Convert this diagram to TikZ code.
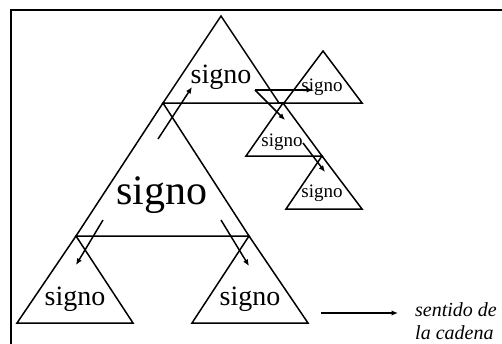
\documentclass[tikz,border=0pt]{standalone}
\usepackage{fontspec}
\setmainfont{Liberation Serif}
\usetikzlibrary{arrows.meta}
\begin{document}
\begin{tikzpicture}[x=1pt,y=-1pt,
  tri/.style={draw=black,line width=1.5pt,line join=miter},
  lbl/.style={inner sep=0pt,anchor=base},
  chain/.style={line width=1.5pt,-{Latex[length=6.5pt,width=5.5pt]}},
  big/.style={font=\fontsize{42}{42}\selectfont},
  med/.style={font=\fontsize{28}{28}\selectfont},
  sml/.style={font=\fontsize{19}{19}\selectfont},
  legend/.style={inner sep=0pt,anchor=base west,font=\fontsize{20}{20}\selectfont\itshape},
]
\useasboundingbox (0,0) rectangle (502,343);
\clip (0,0) rectangle (502,343);
% frame
\draw[line width=2pt] (11,360) -- (11,10) -- (530,10);
% triangle corners
\coordinate (t1a) at (221,16);  \coordinate (t1l) at (163,103); \coordinate (t1r) at (279,103);
\coordinate (t2a) at (323,51);  \coordinate (t2l) at (284,103); \coordinate (t2r) at (362,103);
\coordinate (t3a) at (283,103); \coordinate (t3l) at (246,156); \coordinate (t3r) at (322,156);
\coordinate (t4a) at (322,156); \coordinate (t4l) at (286,209); \coordinate (t4r) at (362,209);
\coordinate (t5a) at (163,103); \coordinate (t5l) at (76,236);  \coordinate (t5r) at (249,236);
\coordinate (t6a) at (76,236);  \coordinate (t6l) at (17,323);  \coordinate (t6r) at (133,323);
\coordinate (t7a) at (249,236); \coordinate (t7l) at (192,323); \coordinate (t7r) at (308,323);
\foreach \t in {t1,t2,t3,t4,t5,t6,t7}
  \draw[tri] (\t a) -- (\t l) -- (\t r) -- cycle;
\draw[tri] (t1r) -- (t2l);
% labels
\node[lbl,med] (s1) at (221,83) {signo};
\node[lbl,sml] (s2) at (322,91) {signo};
\node[lbl,sml] (s3) at (282,146) {signo};
\node[lbl,sml] (s4) at (322,197) {signo};
\node[lbl,big] (s5) at (162,204) {signo};
\node[lbl,med] (s6) at (75,305) {signo};
\node[lbl,med] (s7) at (250,305) {signo};
% chain arrows
\coordinate (a1s) at (158,139); \coordinate (a1e) at (192,87);
\coordinate (a2s) at (255,90);  \coordinate (a2e) at (313,90);
\coordinate (a3e) at (285,120);
\coordinate (a4s) at (303,143); \coordinate (a4e) at (325,172);
\coordinate (a5s) at (103,220); \coordinate (a5e) at (76,265);
\coordinate (a6s) at (221,220); \coordinate (a6e) at (249,266);
\draw[chain] (a1s) -- (a1e);
\draw[chain] (a2s) -- (a2e);
\draw[chain] (a2s) -- (a3e);
\draw[chain] (a4s) -- (a4e);
\draw[chain] (a5s) -- (a5e);
\draw[chain] (a6s) -- (a6e);
% legend
\coordinate (ls) at (321,313); \coordinate (le) at (398,313);
\draw[chain] (ls) -- (le);
\node[legend] (l1) at (415,316) {sentido de};
\node[legend] (l2) at (415,339) {la cadena};
\end{tikzpicture}
\end{document}
